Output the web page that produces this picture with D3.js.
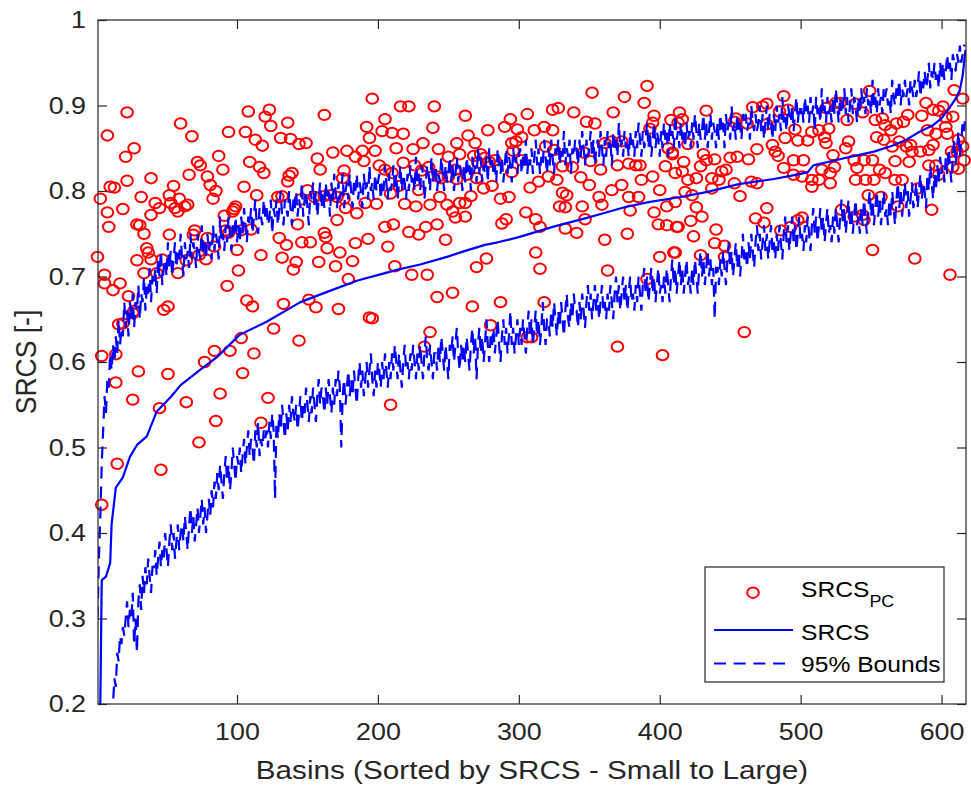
<!DOCTYPE html>
<html><head><meta charset="utf-8">
<script src="https://cdn.jsdelivr.net/npm/d3@7"></script>
<style>body{margin:0;background:#fff}svg{display:block}text{font-family:"Liberation Sans",Arial,Helvetica,sans-serif}</style>
</head><body><svg id="c" width="971" height="791"></svg>
<script>
// ---------------- data ----------------
const xTicks=[100,200,300,400,500,600];
const yTicks=[0.2,0.3,0.4,0.5,0.6,0.7,0.8,0.9,1];
const yTickLabels=["0.2","0.3","0.4","0.5","0.6","0.7","0.8","0.9","1"];
const seriesNames=["SRCS","PC","SRCS","95% Bounds"];
// SRCS_PC markers: [basin, value]
const srcsPC=[
[22,.892],[8,.865],[27,.850],[21,.840],[10,.805],[13,.804],[22,.812],[3,.791],[8,.775],[19,.779],[9,.758],[32,.793],[39,.815],[60,.879],[68,.864],[55,.806],[52,.795],[59,.791],[63,.782],[56,.780],[58,.776],[42,.786],[45,.780],[39,.772],[29,.761],[31,.760],[34,.750],[52,.749],[66,.819],[72,.834],[74,.830],[79,.817],[81,.807],[83,.791],[87,.841],[90,.825],[85,.800],[94,.869],[106,.869],[108,.893],[113,.860],[118,.853],[120,.887],[123,.895],[124,.876],[109,.834],[116,.828],[119,.821],[105,.805],[114,.795],[91,.771],[98,.779],[99,.782],[97,.776],[103,.754],[110,.755],[92,.754],[70,.754],[69,.749],[79,.745],[84,.735],[94,.751],[100,.731],[130,.745],[135,.737],[117,.725],[132,.722],[142,.717],[140,.708],[132,.794],[136,.811],[139,.821],[137,.818],[131,.862],[138,.861],[144,.855],[149,.856],[136,.880],[129,.793],[145,.790],[150,.801],[155,.793],[162,.794],[166,.795],[171,.793],[176,.791],[143,.761],[146,.740],[152,.740],[162,.751],[163,.746],[164,.733],[158,.717],[173,.728],[170,.712],[182,.718],[184,.739],[193,.744],[171,.766],[185,.774],[177,.780],[191,.786],[199,.785],[176,.824],[175,.815],[168,.845],[157,.838],[159,.825],[162,.889],[178,.847],[184,.840],[189,.847],[190,.835],[192,.875],[194,.862],[198,.847],[196,.908],[203,.870],[201,.830],[65,.784],[53,.786],
[1,.723],[6,.702],[6,.692],[12,.684],[17,.692],[23,.677],[26,.657],[27,.660],[16,.644],[19,.645],[29,.719],[34,.704],[36,.733],[37,.728],[39,.720],[43,.704],[48,.661],[51,.665],[58,.704],[47,.720],[64,.719],[73,.725],[78,.720],[93,.689],[101,.707],[107,.672],[111,.665],[133,.668],[151,.673],[156,.664],[172,.662],[179,.697],[194,.652],[196,.651],[126,.639],[144,.625],[4,.607],[14,.609],[14,.576],[30,.589],[26,.556],[51,.586],[64,.553],[77,.600],[84,.613],[95,.613],[103,.628],[112,.610],[104,.587],[88,.563],[122,.558],[45,.546],[4,.433],[85,.531],[73,.506],[46,.474],[15,.481],[117,.529],
[205,.884],[210,.868],[218,.867],[216,.899],[222,.899],[240,.899],[262,.888],[239,.874],[213,.850],[225,.849],[232,.856],[243,.849],[250,.840],[256,.856],[258,.843],[264,.865],[269,.856],[278,.871],[290,.875],[294,.884],[299,.872],[306,.890],[311,.871],[318,.875],[324,.871],[324,.895],[328,.897],[339,.892],[348,.881],[354,.879],[352,.915],[367,.892],[375,.910],[389,.903],[391,.923],[396,.888],[395,.880],[393,.873],[408,.883],[205,.825],[210,.821],[218,.833],[226,.830],[231,.824],[236,.828],[243,.817],[250,.817],[255,.825],[256,.814],[268,.841],[273,.843],[271,.833],[276,.839],[279,.834],[283,.836],[263,.819],[270,.815],[295,.856],[298,.858],[302,.863],[296,.847],[302,.836],[295,.822],[319,.852],[325,.848],[331,.829],[346,.845],[338,.828],[361,.856],[366,.858],[373,.858],[378,.832],[383,.830],[386,.830],[370,.830],[358,.825],[351,.835],[406,.850],[404,.829],[409,.843],
[215,.806],[209,.797],[219,.785],[227,.782],[229,.801],[237,.784],[245,.815],[244,.793],[249,.784],[253,.776],[255,.769],[258,.786],[262,.786],[262,.770],[266,.794],[275,.803],[281,.806],[287,.791],[293,.793],[288,.762],[291,.767],[305,.775],[312,.767],[315,.758],[308,.804],[314,.811],[321,.817],[327,.813],[331,.798],[334,.795],[333,.781],[329,.782],[344,.816],[350,.807],[345,.782],[357,.793],[359,.784],[366,.801],[373,.807],[378,.793],[385,.793],[387,.813],[395,.817],[400,.801],[379,.777],[396,.775],[405,.782],[399,.761],[405,.760],[412,.758],[333,.756],[341,.751],[347,.767],[361,.743],[377,.750],[205,.758],[211,.761],[222,.752],[229,.749],[234,.758],[242,.761],[248,.743],[207,.735],
[212,.712],[224,.702],[235,.702],[270,.711],[277,.721],[312,.728],[315,.709],[363,.707],[400,.723],[410,.728],[391,.697],[242,.676],[253,.681],[267,.665],[287,.670],[318,.670],[280,.643],[237,.635],[233,.618],[306,.629],[309,.629],[370,.618],[402,.608],[209,.550],
[414,.892],[413,.880],[416,.884],[433,.894],[420,.855],[409,.845],[417,.834],[433,.836],[429,.829],[439,.837],[431,.843],[411,.821],[416,.823],[420,.813],[426,.815],[437,.815],[444,.823],[447,.825],[442,.813],[437,.803],[453,.809],[450,.839],[455,.840],[463,.837],[454,.885],[453,.881],[462,.879],[466,.898],[473,.899],[476,.902],[469,.849],[480,.854],[482,.846],[484,.841],[465,.811],[469,.809],[457,.794],[418,.799],[423,.795],[411,.787],[426,.781],[430,.770],[422,.765],[413,.758],[440,.755],[424,.747],[439,.739],[446,.736],[411,.728],[429,.725],[446,.723],[460,.635],[468,.768],[474,.763],[476,.780],[486,.754],[493,.758],[498,.766],[501,.769],[488,.911],[485,.893],[491,.895],[476,.878],[489,.862],[496,.872],[498,.859],[505,.859],[508,.869],[513,.871],[517,.863],[518,.856],[520,.873],[518,.897],[525,.903],[528,.903],[539,.902],[544,.892],[533,.883],[549,.917],[532,.850],[534,.858],[488,.827],[495,.836],[502,.836],[495,.819],[501,.817],[508,.813],[513,.813],[508,.805],[515,.825],[521,.821],[524,.828],[523,.842],[521,.809],[538,.836],[540,.827],[545,.836],[551,.836],[539,.813],[546,.813],[552,.813],[556,.825],[560,.821],[553,.883],[558,.885],[560,.877],[564,.871],[568,.879],[573,.881],[576,.889],[554,.863],[559,.860],[565,.852],[570,.858],[575,.852],[578,.854],[579,.846],[585,.846],[577,.834],[567,.835],[586,.888],[589,.903],[594,.895],[598,.894],[601,.899],[603,.886],[608,.887],[603,.875],[604,.867],[596,.867],[590,.871],[594,.854],[591,.848],[609,.918],[615,.908],[607,.846],[611,.846],[615,.852],[612,.860],[591,.830],[596,.830],[598,.819],[608,.828],[612,.826],[616,.836],[567,.813],[572,.813],[583,.803],[548,.795],[557,.793],[569,.782],[593,.778],[529,.778],[538,.770],[544,.772],[545,.766],[551,.731],[581,.721],[606,.702]
];
// SRCS solid line: [basin, value]
const srcsLine=[[1,.10],[3,.20],[4,.345],[7,.349],[10,.365],[11,.41],[14,.453],[19,.465],[24,.489],[29,.503],[36,.513],[43,.542],[53,.559],[60,.573],[74,.591],[86,.606],[102,.632],[121,.647],[145,.670],[164,.682],[185,.695],[205,.704],[214,.708],[230,.714],[249,.723],[262,.730],[276,.737],[285,.740],[300,.746],[324,.758],[347,.768],[360,.774],[375,.781],[392,.787],[415,.793],[434,.799],[456,.808],[481,.814],[500,.820],[505,.822],[509,.830],[530,.838],[552,.846],[565,.853],[575,.860],[583,.868],[594,.877],[600,.885],[606,.898],[610,.908],[613,.918],[615,.935],[617,.965]];
// 95% bounds, one value per basin (1..617)
const upper95=[
.30,.37,.42,.48,.52,.56,.54,.58,.57,.61,.59,.62,.60,.63,.61,.65,.62,.64,.63,.67,
.64,.66,.63,.67,.65,.68,.64,.67,.66,.69,.65,.68,.67,.70,.66,.69,.68,.71,.67,.70,
.69,.71,.68,.72,.70,.73,.69,.71,.72,.70,.74,.71,.73,.70,.72,.74,.71,.73,.72,.75,
.72,.70,.74,.72,.73,.71,.75,.72,.74,.73,.71,.75,.73,.72,.76,.73,.74,.72,.75,.73,
.74,.72,.76,.73,.75,.74,.72,.77,.74,.75,.73,.76,.74,.77,.75,.73,.76,.75,.77,.74,
.76,.74,.77,.75,.78,.76,.74,.77,.76,.78,.75,.77,.79,.76,.75,.78,.77,.76,.79,.77,
.78,.76,.77,.79,.75,.78,.77,.79,.76,.78,.80,.77,.76,.79,.78,.77,.80,.78,.76,.79,
.78,.80,.77,.79,.78,.81,.77,.79,.80,.78,.76,.80,.79,.81,.78,.80,.77,.79,.81,.78,
.80,.78,.81,.79,.80,.77,.81,.79,.82,.80,.78,.81,.79,.80,.82,.78,.80,.81,.79,.82,
.80,.78,.81,.80,.82,.79,.81,.80,.78,.82,.80,.81,.79,.83,.80,.81,.79,.82,.80,.81,
.82,.79,.81,.80,.83,.81,.79,.82,.80,.81,.83,.80,.82,.79,.81,.83,.80,.82,.81,.79,
.82,.80,.83,.81,.82,.80,.84,.81,.82,.80,.83,.82,.79,.81,.83,.82,.80,.84,.81,.82,
.83,.80,.82,.81,.84,.82,.80,.83,.81,.82,.84,.81,.83,.80,.82,.84,.81,.83,.82,.80,
.83,.81,.84,.82,.83,.80,.84,.82,.83,.81,.85,.82,.84,.81,.83,.82,.84,.81,.85,.83,
.84,.82,.83,.81,.85,.83,.82,.84,.81,.83,.85,.82,.84,.83,.81,.85,.83,.84,.82,.84,
.85,.82,.84,.83,.86,.82,.84,.83,.85,.82,.84,.86,.83,.85,.82,.84,.83,.86,.84,.82,
.85,.83,.86,.84,.82,.85,.84,.86,.83,.85,.84,.87,.83,.85,.84,.86,.82,.85,.84,.86,
.85,.83,.86,.84,.87,.85,.83,.86,.84,.85,.87,.84,.86,.83,.85,.86,.84,.87,.85,.83,
.86,.84,.87,.85,.86,.83,.87,.85,.86,.84,.88,.85,.86,.84,.87,.85,.86,.84,.87,.85,
.86,.84,.87,.85,.88,.86,.84,.87,.85,.86,.88,.85,.87,.84,.86,.88,.85,.87,.86,.84,
.87,.85,.88,.86,.87,.84,.88,.86,.87,.85,.89,.86,.87,.85,.88,.86,.87,.85,.88,.86,
.87,.85,.88,.86,.89,.87,.85,.88,.86,.87,.89,.86,.88,.85,.87,.89,.86,.88,.87,.85,
.88,.86,.89,.87,.88,.85,.89,.87,.88,.86,.90,.87,.88,.86,.89,.87,.88,.86,.89,.88,
.89,.87,.88,.86,.90,.88,.87,.89,.87,.88,.90,.87,.89,.86,.88,.90,.87,.89,.88,.86,
.89,.87,.90,.88,.89,.87,.91,.88,.89,.87,.90,.89,.88,.90,.87,.89,.91,.88,.90,.89,
.90,.88,.91,.89,.90,.88,.91,.89,.90,.87,.91,.89,.90,.88,.92,.89,.90,.88,.91,.89,
.90,.88,.91,.89,.92,.90,.88,.91,.89,.90,.92,.89,.91,.88,.90,.92,.89,.91,.90,.88,
.91,.89,.92,.90,.91,.89,.92,.90,.91,.89,.93,.90,.91,.89,.92,.90,.91,.89,.92,.91,
.92,.90,.91,.89,.93,.91,.90,.92,.91,.93,.90,.92,.91,.93,.91,.92,.90,.93,.92,.91,
.93,.91,.92,.94,.91,.93,.92,.94,.92,.93,.95,.92,.94,.93,.95,.93,.94,.92,.95,.93,
.95,.93,.94,.96,.94,.95,.93,.96,.95,.94,.96,.95,.97,.95,.96,.97,.97
];
const lower95=[
.05,.08,.06,.10,.09,.12,.11,.14,.13,.16,.18,.20,.23,.22,.26,.25,.28,.27,.29,.28,
.30,.32,.29,.31,.30,.33,.27,.30,.26,.32,.34,.31,.35,.33,.36,.34,.37,.35,.33,.36,
.36,.38,.35,.37,.39,.36,.38,.37,.40,.38,.36,.39,.41,.38,.40,.37,.39,.41,.38,.40,
.41,.39,.42,.40,.38,.41,.43,.40,.42,.39,.41,.43,.40,.42,.44,.41,.43,.40,.42,.44,
.42,.45,.43,.46,.44,.47,.45,.48,.46,.44,.47,.49,.46,.48,.45,.47,.50,.48,.46,.49,
.48,.50,.47,.49,.51,.48,.50,.52,.49,.51,.50,.48,.52,.50,.53,.49,.51,.50,.52,.51,
.52,.50,.53,.51,.54,.52,.44,.53,.51,.54,.52,.55,.53,.51,.54,.52,.55,.53,.56,.54,
.53,.55,.52,.54,.56,.53,.55,.54,.57,.55,.53,.56,.54,.57,.55,.53,.56,.58,.55,.57,
.56,.54,.57,.55,.58,.56,.54,.57,.55,.58,.56,.59,.57,.50,.56,.58,.55,.57,.59,.56,
.58,.56,.59,.57,.55,.58,.60,.57,.59,.56,.58,.60,.57,.59,.61,.58,.56,.59,.57,.60,
.59,.57,.60,.58,.61,.59,.57,.60,.58,.61,.59,.62,.60,.58,.61,.59,.57,.60,.62,.59,
.60,.58,.61,.59,.62,.60,.58,.61,.59,.62,.60,.58,.61,.63,.60,.59,.62,.60,.58,.61,
.61,.59,.62,.60,.63,.61,.59,.62,.60,.58,.62,.61,.63,.60,.62,.64,.61,.59,.62,.60,
.62,.60,.63,.61,.59,.62,.64,.61,.63,.58,.62,.64,.61,.63,.60,.62,.65,.62,.60,.63,
.62,.64,.61,.63,.65,.62,.60,.63,.65,.62,.64,.61,.63,.66,.62,.64,.61,.63,.65,.62,
.64,.62,.65,.63,.61,.64,.66,.63,.65,.62,.64,.66,.63,.65,.62,.64,.67,.64,.62,.65,
.65,.63,.66,.64,.67,.65,.63,.66,.64,.67,.65,.63,.66,.68,.65,.64,.67,.65,.68,.66,
.66,.64,.67,.65,.68,.66,.64,.67,.69,.66,.68,.65,.67,.69,.66,.68,.65,.67,.69,.66,
.67,.65,.68,.66,.69,.67,.65,.68,.70,.67,.69,.66,.68,.70,.67,.69,.66,.68,.70,.67,
.68,.66,.69,.67,.70,.68,.66,.69,.71,.68,.70,.67,.69,.71,.68,.70,.67,.69,.71,.68,
.69,.67,.70,.68,.71,.69,.67,.70,.72,.69,.71,.68,.70,.72,.69,.71,.68,.70,.72,.69,
.70,.68,.71,.69,.72,.70,.68,.71,.73,.70,.72,.69,.71,.73,.70,.72,.69,.71,.65,.71,
.71,.69,.72,.70,.73,.71,.69,.72,.74,.71,.73,.70,.72,.74,.71,.73,.70,.72,.75,.72,
.73,.71,.74,.72,.75,.73,.71,.74,.76,.73,.75,.72,.74,.76,.73,.75,.72,.74,.76,.73,
.74,.72,.75,.73,.76,.74,.72,.75,.77,.74,.76,.73,.75,.77,.74,.76,.73,.75,.77,.74,
.75,.73,.76,.74,.77,.75,.73,.76,.78,.75,.77,.74,.76,.78,.75,.77,.74,.76,.78,.75,
.76,.74,.77,.75,.78,.76,.74,.77,.79,.76,.78,.75,.77,.79,.76,.78,.75,.77,.79,.76,
.77,.75,.78,.76,.79,.77,.75,.78,.80,.77,.79,.76,.78,.80,.77,.79,.76,.78,.80,.77,
.78,.76,.79,.77,.80,.78,.76,.79,.81,.78,.80,.77,.79,.81,.78,.80,.77,.79,.81,.78,
.79,.81,.78,.80,.82,.79,.81,.80,.78,.82,.80,.83,.81,.79,.82,.80,.83,.81,.84,.82,
.83,.81,.84,.82,.85,.83,.81,.84,.86,.83,.85,.87,.84,.86,.88,.87,.89
];

// ---------------- chart ----------------
const svg=d3.select("#c");
const L=98,R=966,T=20,B=704;
const SX=1.12; // horizontal stretch of the original figure
const ink="#262626";
const FONT="'Liberation Sans',Arial,sans-serif";
const x=d3.scaleLinear().domain([1,617]).range([97.5,965.5]);
const y=d3.scaleLinear().domain([0.2,1]).range([B,T]);

svg.append("defs").append("clipPath").attr("id","pc").append("rect")
  .attr("x",L).attr("y",T).attr("width",R-L).attr("height",B-T);

svg.append("rect").attr("x",L).attr("y",T).attr("width",R-L).attr("height",B-T).attr("fill","#fff");

// markers
svg.append("g").selectAll("ellipse").data(srcsPC).join("ellipse")
  .attr("cx",d=>x(d[0])).attr("cy",d=>y(d[1])).attr("rx",5.2*SX).attr("ry",5.2)
  .attr("fill","none").attr("stroke","#ff0000").attr("stroke-width",2);

const lines=svg.append("g").attr("clip-path","url(#pc)");
const lineGen=d3.line().x(d=>x(d[0])).y(d=>y(d[1]));
lines.append("path").datum(srcsLine).attr("d",lineGen)
  .attr("fill","none").attr("stroke","#0000ff").attr("stroke-width",2.2).attr("stroke-linejoin","round");
const bGen=d3.line().x((d,i)=>x(i+1)).y(d=>y(d));
[upper95,lower95].forEach(arr=>{
  lines.append("path").datum(arr).attr("d",bGen)
    .attr("fill","none").attr("stroke","#0000ff").attr("stroke-width",2.2)
    .attr("stroke-dasharray","12,8");
});

// axes
function styleAxis(g){
  g.select(".domain").remove();
  g.selectAll("line").attr("stroke",ink).attr("stroke-width",1.2);
  g.selectAll("text").attr("fill",ink).attr("transform",`scale(${SX},1)`)
    .style("font-size","24px").style("font-family",FONT);
}
svg.append("g").attr("transform",`translate(0,${B})`)
  .call(d3.axisBottom(x).tickValues(xTicks).tickSizeInner(-9).tickSizeOuter(0).tickPadding(19))
  .call(styleAxis);
svg.append("g").attr("transform",`translate(0,${T})`)
  .call(d3.axisTop(x).tickValues(xTicks).tickSizeInner(-9).tickSizeOuter(0).tickFormat(""))
  .call(styleAxis);
svg.append("g").attr("transform",`translate(${L},0)`)
  .call(d3.axisLeft(y).tickValues(yTicks).tickSizeInner(-9).tickSizeOuter(0).tickPadding(12/SX)
        .tickFormat((d,i)=>yTickLabels[i]))
  .call(styleAxis);
svg.append("g").attr("transform",`translate(${R},0)`)
  .call(d3.axisRight(y).tickValues(yTicks).tickSizeInner(-9).tickSizeOuter(0).tickFormat(""))
  .call(styleAxis);
svg.append("rect").attr("x",L).attr("y",T).attr("width",R-L).attr("height",B-T)
  .attr("fill","none").attr("stroke",ink).attr("stroke-width",1.2);

// axis labels
svg.append("text").attr("transform",`translate(${(L+R)/2},779) scale(${SX},1)`).attr("text-anchor","middle")
  .attr("fill",ink).style("font-size","26.5px").text("Basins (Sorted by SRCS - Small to Large)");
svg.append("text").attr("transform",`translate(36,${(T+B)/2}) scale(${SX},1) rotate(-90)`).attr("text-anchor","middle")
  .attr("fill",ink).style("font-size","26.5px").text("SRCS [-]");

// legend
const lg=svg.append("g");
lg.append("rect").attr("x",705).attr("y",567).attr("width",239).attr("height",115)
  .attr("fill","#fff").attr("stroke",ink).attr("stroke-width",1.2);
lg.append("ellipse").attr("cx",753).attr("cy",592.7).attr("rx",5.2*SX).attr("ry",5.2)
  .attr("fill","none").attr("stroke","#ff0000").attr("stroke-width",2);
const t1=lg.append("text").attr("transform",`translate(801,597) scale(${SX},1)`).attr("fill","#000").style("font-size","22px");
t1.append("tspan").text(seriesNames[0]);
t1.append("tspan").attr("dy",10).style("font-size","16px").text(seriesNames[1]);
lg.append("line").attr("x1",714).attr("x2",793).attr("y1",630).attr("y2",630)
  .attr("stroke","#0000ff").attr("stroke-width",2.2);
lg.append("text").attr("transform",`translate(801,640) scale(${SX},1)`).attr("fill","#000").style("font-size","22px").text(seriesNames[2]);
lg.append("line").attr("x1",714).attr("x2",785).attr("y1",663.5).attr("y2",663.5)
  .attr("stroke","#0000ff").attr("stroke-width",2.2).attr("stroke-dasharray","12,7.7");
lg.append("text").attr("transform",`translate(801,672) scale(${SX},1)`).attr("fill","#000").style("font-size","22px").text(seriesNames[3]);
</script></body></html>
